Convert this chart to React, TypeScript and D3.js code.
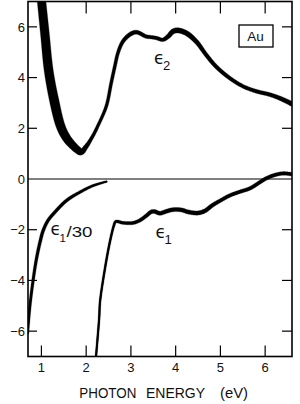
import React, { useLayoutEffect, useRef, useState } from "react";
import * as d3 from "d3";

// ---------- data ----------
const eps2E = [0.985, 1.0, 1.08, 1.16, 1.28, 1.43, 1.56, 1.67, 1.8, 1.89, 2.0, 2.15, 2.26, 2.45, 2.56, 2.64, 2.71, 2.82, 2.97, 3.12, 3.34, 3.42, 3.57, 3.71, 3.83, 3.94, 4.05, 4.24, 4.46, 4.68, 4.9, 5.2, 5.5, 5.8, 6.1, 6.39, 6.62];
const eps2V = [7.3, 7.06, 5.69, 4.31, 3.14, 2.08, 1.62, 1.38, 1.16, 1.07, 1.28, 1.7, 2.09, 2.87, 3.79, 4.44, 4.97, 5.42, 5.69, 5.79, 5.62, 5.6, 5.56, 5.49, 5.62, 5.82, 5.86, 5.75, 5.42, 4.9, 4.44, 3.99, 3.66, 3.46, 3.33, 3.14, 2.94];

const eps1E = [2.21, 2.29, 2.31, 2.42, 2.53, 2.62, 2.66, 2.83, 3.05, 3.2, 3.35, 3.45, 3.52, 3.65, 3.8, 3.94, 4.13, 4.28, 4.5, 4.66, 4.81, 5.0, 5.21, 5.44, 5.66, 5.88, 6.03, 6.22, 6.4, 6.55, 6.62];
const eps1V = [-7.2, -5.5, -4.84, -3.53, -2.48, -1.83, -1.68, -1.73, -1.73, -1.63, -1.44, -1.3, -1.28, -1.35, -1.27, -1.21, -1.22, -1.3, -1.34, -1.25, -1.05, -0.85, -0.65, -0.5, -0.37, -0.13, 0.03, 0.16, 0.22, 0.2, 0.18];

const eps1s30E = [0.69, 0.745, 0.82, 0.89, 0.97, 1.04, 1.15, 1.3, 1.56, 1.86, 2.16, 2.46];
const eps1s30V = [-6.1, -4.97, -3.92, -3.14, -2.48, -2.03, -1.63, -1.31, -0.85, -0.52, -0.26, -0.1];

const xTicks = [1, 2, 3, 4, 5, 6];
const yTicks = [-6, -4, -2, 0, 2, 4, 6];
const xTitleWords = ["PHOTON", "ENERGY", "(eV)"];
const material = "Au";

// ---------- styles (stroke widths along energy) ----------
const eps2Widths: [number, number][] = [[0.95, 8.5], [1.3, 9.5], [1.6, 8.5], [1.85, 7.2], [1.95, 5], [2.1, 3.4], [2.3, 3], [2.7, 3.3], [3.0, 4.2], [3.4, 3.6], [3.7, 3.6], [4.0, 5.3], [4.3, 5], [4.6, 4], [5.5, 3.6], [6.2, 4], [6.6, 4.8]];
const eps1Widths: [number, number][] = [[2.2, 2.0], [2.6, 2.3], [2.7, 3], [3.3, 3.6], [3.5, 4], [4.6, 4.2], [5.0, 3.6], [6.6, 3.6]];
const eps1s30Widths: [number, number][] = [[0.7, 2.6], [1.0, 3.2], [1.6, 3.2], [2.2, 2.4], [2.46, 1.8]];

const W = 300, H = 404;
const L = 28, R = 292, T = 1.5, B = 356.5;
const x = d3.scaleLinear().domain([0.7, 6.6]).range([L, R]);
const y = d3.scaleLinear().domain([-7, 7]).range([B, T]);

const FONT = "'Liberation Sans', Arial, sans-serif";
const GFONT = "'DejaVu Sans', sans-serif";

function Ribbon({ E, V, widths }: { E: number[]; V: number[]; widths: [number, number][] }) {
  const ref = useRef<SVGPathElement>(null);
  const [d, setD] = useState("");
  const line = d3
    .line<number>()
    .x((i) => x(E[i]))
    .y((i) => y(V[i]))
    .curve(d3.curveCatmullRom.alpha(0.5));
  const base = line(E.map((_, i) => i)) ?? "";
  useLayoutEffect(() => {
    const p = ref.current;
    if (!p) return;
    const wScale = d3
      .scaleLinear()
      .domain(widths.map((w) => w[0]))
      .range(widths.map((w) => w[1]))
      .clamp(true);
    const len = p.getTotalLength();
    const n = Math.ceil(len / 0.6);
    const pts = d3.range(n + 1).map((k) => p.getPointAtLength((len * k) / n));
    const left: [number, number][] = [];
    const right: [number, number][] = [];
    pts.forEach((pt, k) => {
      const a = pts[Math.max(0, k - 2)];
      const b = pts[Math.min(n, k + 2)];
      let dx = b.x - a.x, dy = b.y - a.y;
      const l = Math.hypot(dx, dy) || 1;
      dx /= l; dy /= l;
      const h = wScale(x.invert(pt.x)) / 2;
      left.push([pt.x - dy * h, pt.y + dx * h]);
      right.push([pt.x + dy * h, pt.y - dx * h]);
    });
    const poly = left.concat(right.reverse());
    setD("M" + poly.map((q) => q[0].toFixed(2) + "," + q[1].toFixed(2)).join("L") + "Z");
  }, [base]);
  return (
    <g>
      <path ref={ref} d={base} fill="none" stroke="#000" strokeWidth={1.6} strokeLinecap="round" />
      {d && <path d={d} fill="#000" stroke="#000" strokeWidth={0.3} />}
    </g>
  );
}

export default function App() {
  return (
    <svg
      width={W}
      height={H}
      viewBox={`0 0 ${W} ${H}`}
      style={{ position: "absolute", left: 0, top: 0, background: "#fff" }}
    >
      <rect x={0} y={0} width={W} height={H} fill="#fff" />
      <defs>
        <clipPath id="plotClip">
          <rect x={L} y={T} width={R - L} height={B - T} />
        </clipPath>
      </defs>

      {/* zero line */}
      <line x1={L} x2={R} y1={y(0)} y2={y(0)} stroke="#000" strokeWidth={1.1} />

      {/* curves */}
      <g clipPath="url(#plotClip)">
        <Ribbon E={eps2E} V={eps2V} widths={eps2Widths} />
        <Ribbon E={eps1E} V={eps1V} widths={eps1Widths} />
        <Ribbon E={eps1s30E} V={eps1s30V} widths={eps1s30Widths} />
      </g>

      {/* frame */}
      <rect x={L} y={T} width={R - L} height={B - T} fill="none" stroke="#000" strokeWidth={1.6} />

      {/* ticks */}
      {xTicks.map((t) => (
        <g key={"xt" + t}>
          <line x1={x(t)} x2={x(t)} y1={B} y2={B - 11} stroke="#000" strokeWidth={1.2} />
          <line x1={x(t)} x2={x(t)} y1={T} y2={T + 12} stroke="#000" strokeWidth={1.2} />
          <text x={x(t)} y={372} textAnchor="middle" fontFamily={FONT} fontSize={13} fill="#111">
            {t}
          </text>
        </g>
      ))}
      {yTicks.map((t) => (
        <g key={"yt" + t}>
          {t !== 0 && <line x1={L} x2={L + 9} y1={y(t)} y2={y(t)} stroke="#000" strokeWidth={1.2} />}
          {t !== 0 && <line x1={R} x2={R - 10} y1={y(t)} y2={y(t)} stroke="#000" strokeWidth={1.2} />}
          <text x={25} y={y(t) + 4.7} textAnchor="end" fontFamily={FONT} fontSize={13} fill="#111">
            {t < 0 ? "\u2212" + Math.abs(t) : String(t)}
          </text>
        </g>
      ))}

      {/* axis title */}
      <text y={398} fontFamily={FONT} fontSize={14} fill="#111">
        <tspan x={79.3} textLength={57} lengthAdjust="spacingAndGlyphs">{xTitleWords[0]}</tspan>
        <tspan x={146} textLength={59} lengthAdjust="spacingAndGlyphs">{xTitleWords[1]}</tspan>
        <tspan x={220} textLength={28} lengthAdjust="spacingAndGlyphs">{xTitleWords[2]}</tspan>
      </text>

      {/* material box */}
      <rect x={239} y={25} width={34} height={22} fill="#fff" stroke="#000" strokeWidth={1.3} />
      <text x={255.5} y={41} textAnchor="middle" fontFamily={FONT} fontSize={13.5} fill="#111">
        {material}
      </text>

      {/* curve labels */}
      <text fontFamily={FONT} fill="#111">
        <tspan x={154} y={63.5} fontFamily={GFONT} fontSize={17}>{"\u03F5"}</tspan>
        <tspan x={163} y={70} fontSize={13}>2</tspan>
      </text>

      <text fontFamily={FONT} fill="#111">
        <tspan x={155.5} y={237.5} fontFamily={GFONT} fontSize={17}>{"\u03F5"}</tspan>
        <tspan x={164.5} y={244} fontSize={13}>1</tspan>
      </text>

      <text fontFamily={FONT} fill="#111">
        <tspan x={50.5} y={234.5} fontFamily={GFONT} fontSize={17}>{"\u03F5"}</tspan>
        <tspan x={59.5} y={241.5} fontSize={11.5}>1</tspan>
        <tspan x={66.5} y={236.5} fontSize={15} textLength={26} lengthAdjust="spacingAndGlyphs">/30</tspan>
      </text>
    </svg>
  );
}
